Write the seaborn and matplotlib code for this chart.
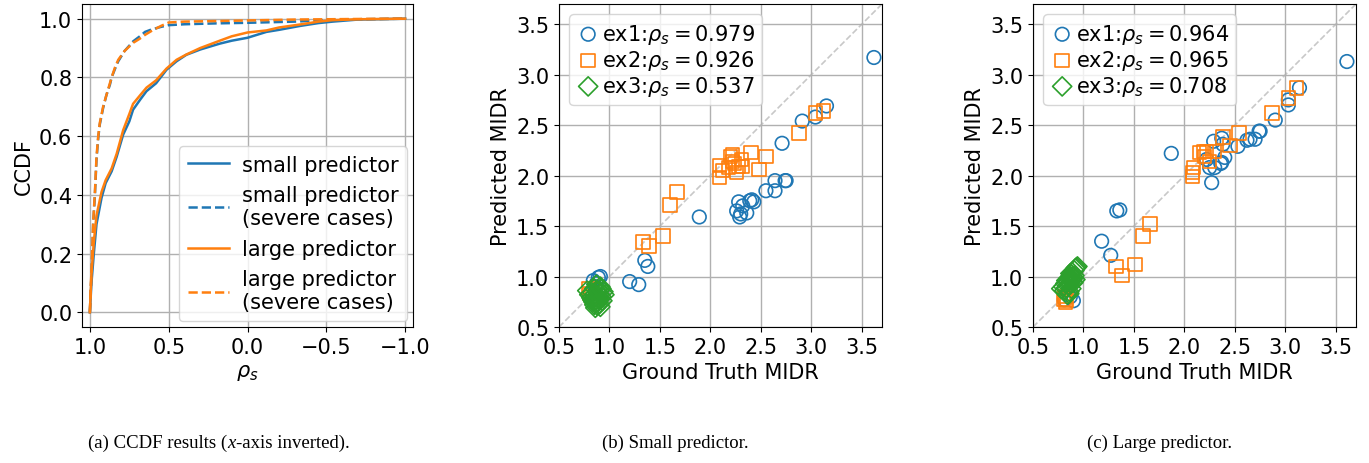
import numpy as np
import pandas as pd
import seaborn as sns
import matplotlib.pyplot as plt

# ---- CCDF panel data (rho_s vs CCDF) ----
small_rho = [1.00, 0.99, 0.975, 0.958, 0.926, 0.90, 0.862, 0.83, 0.789, 0.75, 0.726, 0.68, 0.641, 0.58,
             0.514, 0.45, 0.388, 0.30, 0.176, 0.10, 0.00, -0.12, -0.20, -0.33, -0.45, -0.54, -0.70, -1.00]
small_ccdf = [0.0, 0.10, 0.20, 0.30, 0.39, 0.44, 0.48, 0.53, 0.605, 0.65, 0.69, 0.725, 0.753, 0.78,
              0.826, 0.855, 0.877, 0.895, 0.915, 0.925, 0.935, 0.955, 0.962, 0.975, 0.985, 0.99, 0.997, 1.0]
large_ccdf = [0.0, 0.13, 0.24, 0.33, 0.41, 0.45, 0.49, 0.54, 0.62, 0.675, 0.71, 0.74, 0.765, 0.79,
              0.83, 0.86, 0.878, 0.90, 0.925, 0.94, 0.953, 0.96, 0.97, 0.98, 0.99, 0.995, 0.998, 1.0]
severe_rho = [1.0, 0.995, 0.989, 0.979, 0.968, 0.958, 0.947, 0.937, 0.916, 0.895, 0.873, 0.862, 0.84, 0.82,
              0.78, 0.725, 0.683, 0.65, 0.61, 0.55, 0.50, 0.40, 0.2, 0.0, -0.3, -0.5, -0.7, -1.0]
small_severe_ccdf = [0.0, 0.07, 0.13, 0.30, 0.40, 0.52, 0.594, 0.64, 0.696, 0.74, 0.775, 0.80, 0.83, 0.855,
                     0.89, 0.923, 0.94, 0.955, 0.963, 0.972, 0.978, 0.981, 0.984, 0.986, 0.99, 0.995, 0.998, 1.0]
large_severe_ccdf = [0.0, 0.08, 0.15, 0.31, 0.41, 0.53, 0.60, 0.645, 0.70, 0.74, 0.78, 0.80, 0.835, 0.86,
                     0.89, 0.918, 0.932, 0.945, 0.958, 0.975, 0.987, 0.99, 0.992, 0.994, 0.997, 0.998, 0.999, 1.0]

# ---- scatter panels: ground truth vs predicted MIDR ----
ex1_gt_small = [0.84, 0.87, 0.89, 0.91, 0.86, 1.20, 1.29, 1.35, 1.38, 1.89, 2.26, 2.28, 2.29, 2.32, 2.36,
                2.39, 2.41, 2.43, 2.30, 2.55, 2.64, 2.64, 2.74, 2.75, 2.71, 2.91, 3.04, 3.15, 3.62]
ex1_pred_small = [0.96, 0.93, 0.99, 1.00, 0.90, 0.95, 0.92, 1.16, 1.10, 1.59, 1.65, 1.74, 1.59, 1.70, 1.63,
                  1.75, 1.76, 1.74, 1.62, 1.85, 1.85, 1.95, 1.95, 1.95, 2.32, 2.54, 2.58, 2.69, 3.17]
ex2_gt_small = [0.79, 0.80, 0.82, 1.33, 1.39, 1.53, 1.60, 1.67, 2.09, 2.09, 2.12, 2.18, 2.20, 2.22, 2.22,
                2.24, 2.26, 2.28, 2.31, 2.32, 2.40, 2.48, 2.55, 2.88, 3.04, 3.12]
ex2_pred_small = [0.88, 0.83, 0.80, 1.34, 1.30, 1.40, 1.71, 1.84, 1.98, 2.10, 2.05, 2.08, 2.19, 2.14, 2.21,
                  2.12, 2.03, 2.09, 2.16, 2.09, 2.23, 2.06, 2.19, 2.42, 2.62, 2.64]
ex3_gt_small = [0.78, 0.80, 0.82, 0.83, 0.84, 0.85, 0.86, 0.86, 0.87, 0.88, 0.88, 0.89, 0.90, 0.90, 0.91,
                0.92, 0.93, 0.94, 0.95, 0.85, 0.87, 0.89, 0.84, 0.86, 0.91, 0.88, 0.83, 0.92, 0.87, 0.90]
ex3_pred_small = [0.86, 0.82, 0.79, 0.84, 0.75, 0.72, 0.69, 0.80, 0.74, 0.71, 0.86, 0.78, 0.83, 0.73, 0.90,
                  0.80, 0.76, 0.85, 0.82, 0.88, 0.92, 0.75, 0.78, 0.83, 0.70, 0.81, 0.77, 0.88, 0.77, 0.86]

ex1_gt_large = [0.81, 0.87, 0.90, 1.18, 1.27, 1.33, 1.36, 1.87, 2.25, 2.27, 2.29, 2.30, 2.36, 2.37, 2.37,
                2.38, 2.40, 2.22, 2.53, 2.62, 2.65, 2.70, 2.74, 2.75, 2.90, 3.03, 3.03, 3.14, 3.61]
ex1_pred_large = [0.77, 0.80, 0.76, 1.35, 1.21, 1.65, 1.66, 2.22, 2.08, 1.93, 2.34, 2.08, 2.12, 2.13, 2.37,
                  2.31, 2.18, 2.16, 2.29, 2.35, 2.36, 2.36, 2.44, 2.44, 2.55, 2.70, 2.75, 2.87, 3.13]
ex2_gt_large = [0.80, 0.82, 0.83, 0.81, 1.32, 1.38, 1.51, 1.59, 1.66, 2.08, 2.08, 2.09, 2.15, 2.19, 2.20,
                2.22, 2.25, 2.30, 2.38, 2.45, 2.54, 2.87, 3.03, 3.11]
ex2_pred_large = [0.78, 0.75, 0.77, 0.80, 1.10, 1.01, 1.12, 1.40, 1.52, 1.99, 2.03, 2.08, 2.23, 2.24, 2.19,
                  2.24, 2.14, 2.24, 2.38, 2.30, 2.42, 2.62, 2.77, 2.87]
ex3_gt_large = [0.78, 0.80, 0.81, 0.82, 0.83, 0.84, 0.85, 0.85, 0.86, 0.87, 0.87, 0.88, 0.89, 0.89, 0.90,
                0.91, 0.91, 0.92, 0.93, 0.94, 0.86, 0.88, 0.84, 0.90, 0.92, 0.87, 0.89, 0.83]
ex3_pred_large = [0.88, 0.90, 0.86, 0.93, 0.89, 0.95, 0.92, 0.98, 0.85, 1.00, 0.94, 1.02, 0.97, 1.04, 0.99,
                  1.06, 1.01, 1.08, 1.09, 1.10, 0.83, 0.88, 0.82, 0.94, 0.97, 1.03, 1.00, 0.96]

rho_small = ['0.979', '0.926', '0.537']
rho_large = ['0.964', '0.965', '0.708']
mid_ticks = [0.5, 1.0, 1.5, 2.0, 2.5, 3.0, 3.5]

blue, orange, green = '#1f77b4', '#ff7f0e', '#2ca02c'
FS = 15

plt.rcParams['font.size'] = FS
plt.rcParams['axes.grid'] = True
plt.rcParams['grid.color'] = '#b0b0b0'
plt.rcParams['grid.linewidth'] = 1.0

fig = plt.figure(figsize=(13.69, 4.64), dpi=100)
ax0 = fig.add_axes([82 / 1369, 136 / 464, 331 / 1369, 323 / 464])
ax1 = fig.add_axes([559 / 1369, 136 / 464, 323 / 1369, 323 / 464])
ax2 = fig.add_axes([1033 / 1369, 136 / 464, 323 / 1369, 323 / 464])

# (a) CCDF
curves = [
    (small_rho, small_ccdf, blue, '-', 'small predictor'),
    (severe_rho, small_severe_ccdf, blue, '--', 'small predictor\n(severe cases)'),
    (small_rho, large_ccdf, orange, '-', 'large predictor'),
    (severe_rho, large_severe_ccdf, orange, '--', 'large predictor\n(severe cases)'),
]
for xs, ys, c, ls, lab in curves:
    sns.lineplot(x=xs, y=ys, ax=ax0, color=c, linestyle=ls, linewidth=1.8, label=lab,
                 estimator=None, sort=False)
ax0.set_xlim(1.05, -1.05)
ax0.set_ylim(-0.05, 1.05)
ax0.set_xticks([1.0, 0.5, 0.0, -0.5, -1.0])
ax0.set_xlabel(r'$\rho_s$')
ax0.set_ylabel('CCDF')
ax0.legend(loc='lower right', fontsize=FS, borderaxespad=0.3, handletextpad=0.6)


def scatter_panel(ax, sets, rhos):
    markers = ['o', 's', 'D']
    colors = [blue, orange, green]
    ax.axline((0.5, 0.5), slope=1, color='#c8c8c8', linestyle='--', linewidth=1.2, zorder=1)
    for i, (gt, pred) in enumerate(sets):
        sns.scatterplot(x=gt, y=pred, ax=ax, marker=markers[i], s=95, facecolor='none',
                        edgecolor=colors[i], linewidth=1.2, zorder=3,
                        label='ex%d:$\\rho_s = %s$' % (i + 1, rhos[i]))
    ax.set_xlim(0.5, 3.7)
    ax.set_ylim(0.5, 3.7)
    ax.set_xticks(mid_ticks)
    ax.set_yticks(mid_ticks)
    ax.set_xlabel('Ground Truth MIDR')
    ax.set_ylabel('Predicted MIDR')
    ax.legend(loc='upper left', fontsize=FS, handlelength=1.1, handletextpad=0.1,
              borderpad=0.35, labelspacing=0.1)


scatter_panel(ax1, [(ex1_gt_small, ex1_pred_small), (ex2_gt_small, ex2_pred_small),
                    (ex3_gt_small, ex3_pred_small)], rho_small)
scatter_panel(ax2, [(ex1_gt_large, ex1_pred_large), (ex2_gt_large, ex2_pred_large),
                    (ex3_gt_large, ex3_pred_large)], rho_large)

# captions
cap = dict(family='Liberation Serif', size=13.5)
t = fig.text(88 / 1369, 16 / 464, '(a) CCDF results (', va='baseline', **cap)
t2 = ax0.annotate('x', xy=(1, 0), xycoords=t, va='bottom', ha='left', style='italic', **cap)
ax0.annotate('-axis inverted).', xy=(1, 0), xycoords=t2, va='bottom', ha='left', **cap)
fig.text(602 / 1369, 16 / 464, '(b) Small predictor.', va='baseline', **cap)
fig.text(1087 / 1369, 16 / 464, '(c) Large predictor.', va='baseline', **cap)

fig.savefig('out.png', dpi=100)
